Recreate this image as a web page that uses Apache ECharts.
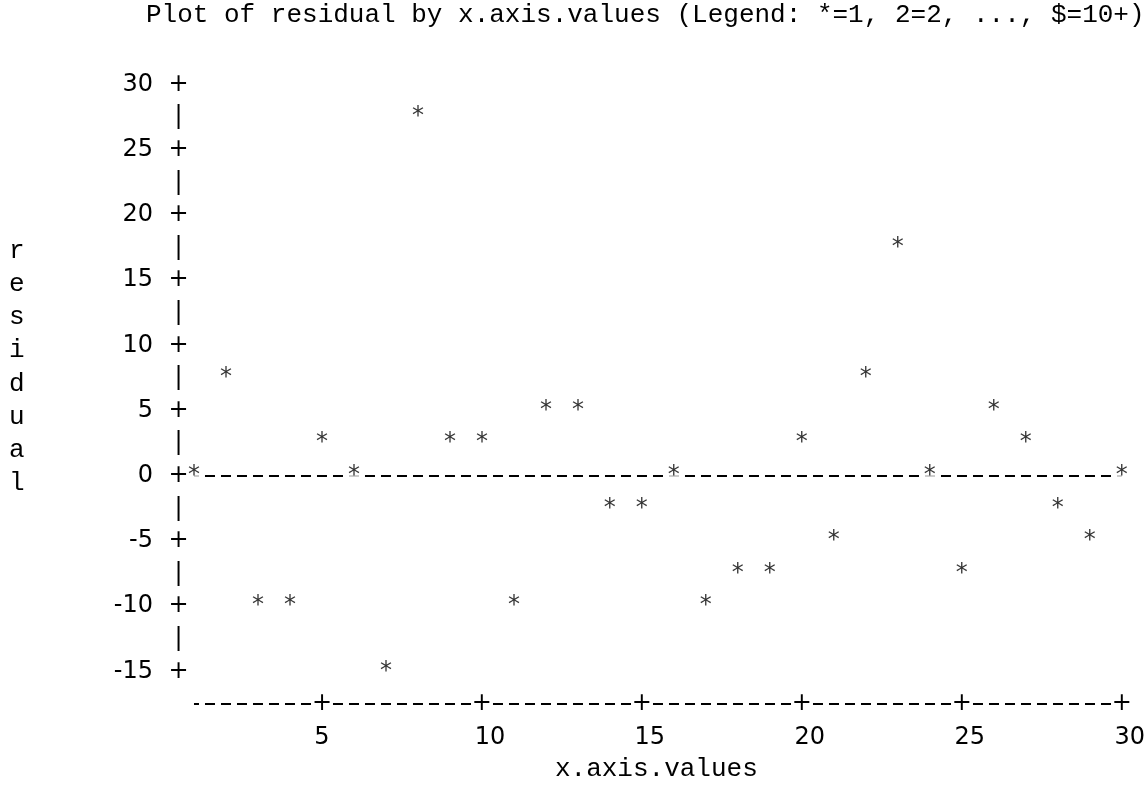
<!DOCTYPE html>
<html><head><meta charset="utf-8">
<script src="https://cdn.jsdelivr.net/npm/echarts@6/dist/echarts.min.js"></script>
<style>html,body{margin:0;padding:0;background:#fff}#c{width:1148px;height:787px}</style>
</head><body><div id="c"></div>
<script>
const titleText = 'Plot of residual by x.axis.values (Legend: *=1, 2=2, ..., $=10+)';
const xName = 'x.axis.values';
const yName = 'residual';
const xValues = [1,2,3,4,5,6,7,8,9,10,11,12,13,14,15,16,17,18,19,20,21,22,23,24,25,26,27,28,29,30];
const residuals = [0,7.5,-10,-10,2.5,0,-15,27.5,2.5,2.5,-10,5,5,-2.5,-2.5,0,-10,-7.5,-7.5,2.5,-5,7.5,17.5,0,-7.5,5,2.5,-2.5,-5,0];
const xTickLabels = [5,10,15,20,25,30];
const yTickLabels = [30,25,20,15,10,5,0,-5,-10,-15];

const PLOT_FONT = 'DejaVu Sans';
const TEXT_FONT = 'Liberation Mono';
const X_MIN = 0, X_MAX = 30, X_INT = 5;
const Y_MIN = -17.5, Y_MAX = 30, Y_INT = 2.5;

const chart = echarts.init(document.getElementById('c'), null, {renderer: 'canvas'});
const plotText = {fontFamily: PLOT_FONT, fontSize: 24, color: '#000'};
const monoText = {fontFamily: TEXT_FONT, fontSize: 26, fontWeight: 'normal', color: '#000'};
const hidden = {axisLine: {show: false}, axisTick: {show: false}, splitLine: {show: false}};

const option = {
  animation: false,
  backgroundColor: '#fff',
  title: [
    {text: titleText, left: 146, top: 2, padding: 0, textStyle: Object.assign({lineHeight: 26}, monoText)},
    {text: yName.split('').join('\n'), left: 9, top: 234.5, padding: 0, textStyle: Object.assign({lineHeight: 33.16}, monoText)}
  ],
  grid: {left: 162, right: 26, top: 84.5, bottom: 67.9, containLabel: false},
  xAxis: [
    Object.assign({
      type: 'value', min: X_MIN, max: X_MAX, interval: X_INT,
      name: xName, nameLocation: 'middle', nameGap: 52,
      nameTextStyle: Object.assign({padding: [0, 0, 0, 29], lineHeight: 26}, monoText),
      axisLabel: Object.assign({
        margin: 34, verticalAlign: 'middle',
        formatter: v => xTickLabels.includes(v) ? (v < 10 ? '{a|' + v + '}' : '{b|' + v + '}') : '',
        rich: {a: Object.assign({}, plotText), b: Object.assign({padding: [0, 0, 0, 16]}, plotText)}
      }, plotText)
    }, hidden),
    Object.assign({
      type: 'value', min: X_MIN, max: X_MAX, interval: X_INT, position: 'bottom', z: 10,
      axisLabel: Object.assign({
        margin: 0, verticalAlign: 'middle', backgroundColor: '#fff', padding: [0, 0],
        formatter: v => xTickLabels.includes(v) ? '+' : ''
      }, plotText)
    }, hidden)
  ],
  yAxis: [
    Object.assign({
      type: 'value', min: Y_MIN, max: Y_MAX, interval: Y_INT,
      axisLabel: Object.assign({
        margin: 9, formatter: v => yTickLabels.includes(v) ? String(v) : ''
      }, plotText)
    }, hidden),
    Object.assign({
      type: 'value', min: Y_MIN, max: Y_MAX, interval: Y_INT, position: 'left',
      axisLabel: Object.assign({
        inside: true, margin: 16.5, align: 'center',
        formatter: v => yTickLabels.includes(v) ? '+' : (v > Y_MIN ? '|' : '')
      }, plotText)
    }, hidden)
  ],
  series: [
    {
      type: 'line', data: [], z: 1, silent: true,
      markLine: {
        silent: true, symbol: 'none', label: {show: false}, animation: false,
        lineStyle: {type: [10, 6], dashOffset: 5, color: '#000', width: 1.8},
        data: [
          [{coord: [xValues[0], 0]}, {coord: [xValues[xValues.length - 1], 0]}],
          [{coord: [xValues[0], Y_MIN]}, {coord: [X_MAX, Y_MIN]}]
        ]
      }
    },
    {
      type: 'scatter', z: 5, symbol: 'circle', symbolSize: 1,
      itemStyle: {color: 'rgba(0,0,0,0)'},
      data: xValues.map((x, i) => [x, residuals[i]]),
      label: Object.assign({
        show: true, position: 'inside', formatter: '*',
        backgroundColor: '#fff', padding: [0, 1]
      }, plotText)
    }
  ]
};
chart.setOption(option);
</script>
</body></html>
